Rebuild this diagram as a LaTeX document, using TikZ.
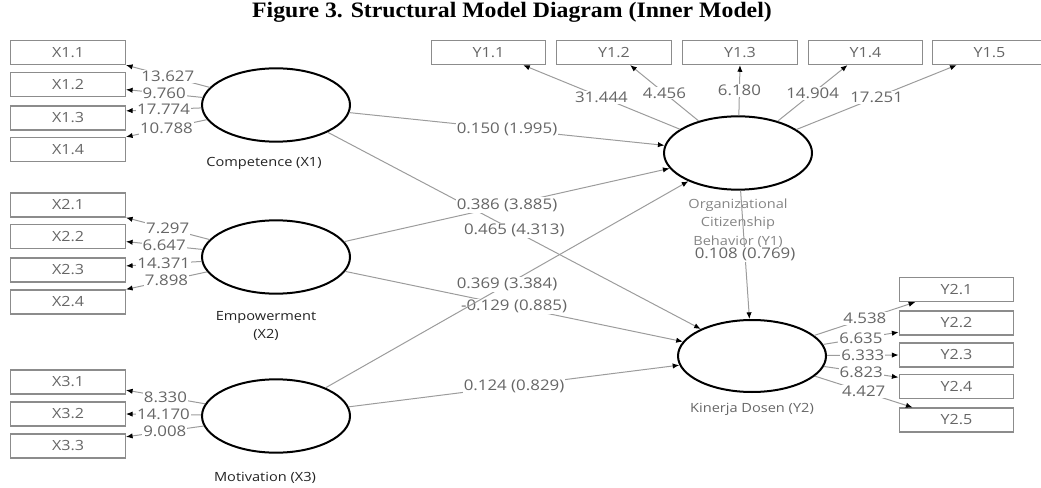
\documentclass[tikz,border=0pt]{standalone}
\usepackage{fontspec}
\setmainfont{Liberation Serif}
\newfontfamily\segoe[FakeStretch=1.15]{Open Sans}
\newfontfamily\titlefont[FakeStretch=1.08]{Liberation Serif}
\usetikzlibrary{arrows.meta, positioning, shapes}

\definecolor{linegray}{HTML}{9C9C9C}
\definecolor{boxgray}{HTML}{8C8C8C}
\definecolor{numgray}{HTML}{666666}
\definecolor{lvtext}{HTML}{222222}

\begin{document}
\begin{tikzpicture}[x=0.75pt, y=-0.75pt,
    ind/.style={draw=boxgray, line width=0.9pt, minimum width=86pt, minimum height=18pt,
        inner sep=0pt, text=numgray, font=\segoe\fontsize{10.5}{12}\selectfont},
    lv/.style={draw, ellipse, line width=1.5pt, minimum width=111pt, minimum height=55pt, inner sep=0pt},
    load/.style={draw=linegray, line width=0.75pt, -{Latex[length=5pt, width=4pt, color=black]}},
    struct/.style={draw=linegray, line width=0.75pt, -{Latex[length=5pt, width=4pt, color=black]}},
    coef/.style={fill=white, inner sep=0.8pt, text=numgray, font=\segoe\fontsize{11}{12}\selectfont},
    lvname/.style={align=center, text=lvtext, font=\segoe\fontsize{9.5}{13.9}\selectfont}]

    \useasboundingbox (0,0) rectangle (1041,488);

    % Title
    \node[font=\titlefont\bfseries\fontsize{16.5}{18}\selectfont] (title) at (512,12)
        {Figure 3. Structural Model Diagram (Inner Model)};

    % Latent variables
    \node[lv] (lvx1) at (276,105) {};
    \node[lv] (lvx2) at (276,257) {};
    \node[lv] (lvx3) at (276,416) {};
    \node[lv] (lvy1) at (738,153) {};
    \node[lv, minimum height=54pt] (lvy2) at (752,356) {};

    \node[lvname] (nx1) at (264,163) {Competence (X1)};
    \node[lvname] (nx2) at (266,326) {Empowerment\\(X2)};
    \node[lvname] (nx3) at (265,478) {Motivation (X3)};
    \node[lvname, text=numgray!80] (ny1) at (738,223) {Organizational\\Citizenship\\Behavior (Y1)};
    \node[lvname, text=numgray] (ny2) at (752,409) {Kinerja Dosen (Y2)};

    % Indicators
    \foreach \i/\y in {1/52.5, 2/84.5, 3/118, 4/149.5}
        \node[ind] (x1\i) at (68,\y) {X1.\i};
    \foreach \i/\y in {1/205, 2/236.5, 3/270, 4/302}
        \node[ind] (x2\i) at (68,\y) {X2.\i};
    \foreach \i/\y in {1/382, 2/414, 3/446}
        \node[ind] (x3\i) at (68,\y) {X3.\i};
    \foreach \i/\x in {1/488.5, 2/614, 3/740, 4/865.5, 5/989.5}
        \node[ind] (y1\i) at (\x,52.5) {Y1.\i};
    \foreach \i/\y in {1/289.5, 2/323, 3/355, 4/386.5, 5/420}
        \node[ind] (y2\i) at (956.5,\y) {Y2.\i};

    % Outer loadings
    \draw[load] (lvx1) -- node[coef] {13.627} (x11.south east);
    \draw[load] (lvx1) -- node[coef] {9.760} (x12.-5);
    \draw[load] (lvx1) -- node[coef] {17.774} (x13.7);
    \draw[load] (lvx1) -- node[coef] {10.788} (x14.north east);

    \draw[load] (lvx2) -- node[coef] {7.297} (x21.south east);
    \draw[load] (lvx2) -- node[coef] {6.647} (x22.-5);
    \draw[load] (lvx2) -- node[coef] {14.371} (x23.4);
    \draw[load] (lvx2) -- node[coef] {7.898} (x24.north east);

    \draw[load] (lvx3) -- node[coef] {8.330} (x31.-8);
    \draw[load] (lvx3) -- node[coef] {14.170} (x32.east);
    \draw[load] (lvx3) -- node[coef] {9.008} (x33.9);

    \draw[load] (lvy1) -- node[coef] {31.444} (y11.-20);
    \draw[load] (lvy1) -- node[coef] {4.456} (y12.-38);
    \draw[load] (lvy1) -- node[coef] {6.180} (y13.south);
    \draw[load] (lvy1) -- node[coef] {14.904} (y14.-145);
    \draw[load] (lvy1) -- node[coef] {17.251} (y15.-159);

    \draw[load] (lvy2) -- node[coef] {4.538} (y21.-163);
    \draw[load] (lvy2) -- node[coef] {6.635} (y22.189);
    \draw[load] (lvy2) -- node[coef] {6.333} (y23.west);
    \draw[load] (lvy2) -- node[coef] {6.823} (y24.171);
    \draw[load] (lvy2) -- node[coef] {4.427} (y25.164);

    % Inner model paths
    \draw[struct] (lvx1) -- node[coef] {0.150 (1.995)} (lvy1);
    \draw[struct] (lvx1) -- node[coef] {0.465 (4.313)} (lvy2);
    \draw[struct] (lvx2) -- node[coef] {0.386 (3.885)} (lvy1);
    \draw[struct] (lvx2) -- node[coef] {-0.129 (0.885)} (lvy2);
    \draw[struct] (lvx3) -- node[coef] {0.369 (3.384)} (lvy1);
    \draw[struct] (lvx3) -- node[coef] {0.124 (0.829)} (lvy2);
    \draw[struct] (lvy1) -- node[coef, pos=0.5] {0.108 (0.769)} (lvy2);
\end{tikzpicture}
\end{document}
